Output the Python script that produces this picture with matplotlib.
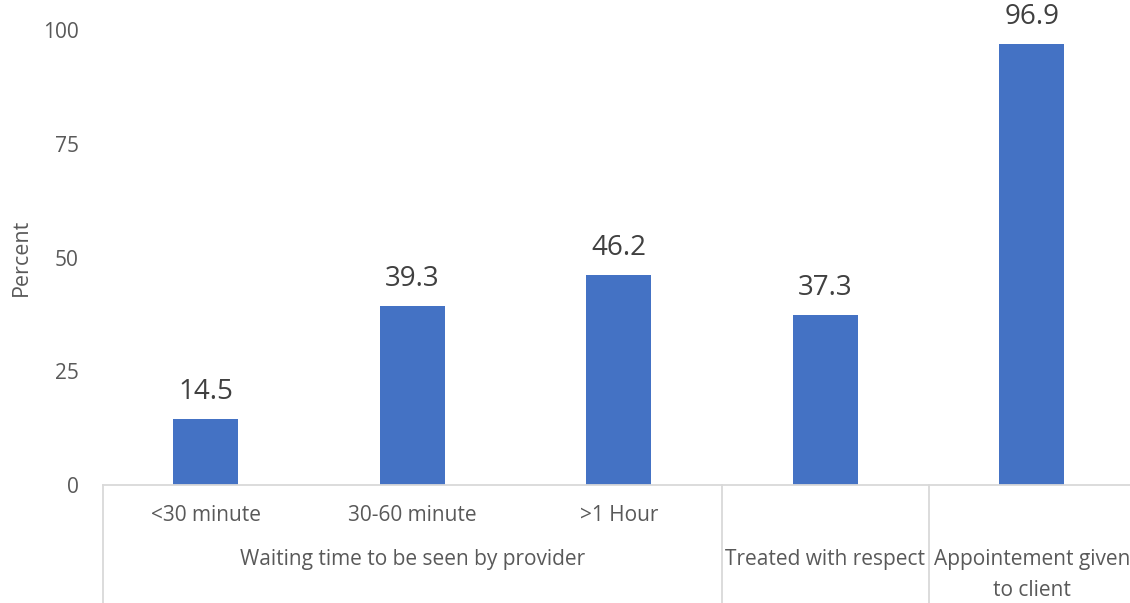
import matplotlib.pyplot as plt
from matplotlib.transforms import blended_transform_factory

plt.rcParams['font.family'] = ['Open Sans', 'DejaVu Sans']

# Percent of clients per indicator
sub_labels = ['<30 minute', '30-60 minute', '>1 Hour', '', '']
values = [14.5, 39.3, 46.2, 37.3, 96.9]
groups = ['Waiting time to be seen by provider', 'Treated with respect',
          'Appointement given\nto client']
group_spans = [(0, 2), (3, 3), (4, 4)]
yticks = [0, 25, 50, 75, 100]

bar_color = '#4472C4'
text_color = '#595959'
line_color = '#D9D9D9'
fs = 15

fig = plt.figure(figsize=(11.3, 6.03), dpi=100)
ax = fig.add_axes([102.5 / 1130, 118 / 603, 1032.5 / 1130, 455 / 603])

x = list(range(len(values)))
bars = ax.bar(x, values, width=0.315, color=bar_color, zorder=2)
for xi, v in zip(x, values):
    ax.annotate(f'{v:.1f}', (xi, v), xytext=(0, 9.5), textcoords='offset points',
                ha='center', va='bottom', fontsize=20, color='#404040')

ax.set_xlim(-0.5, len(values) - 0.5)
ax.set_ylim(0, 100)
ax.set_yticks(yticks)
ax.tick_params(axis='y', length=0, labelsize=fs, labelcolor=text_color, pad=17)
ax.set_xticks([])
for side in ['left', 'right', 'top']:
    ax.spines[side].set_visible(False)
ax.spines['bottom'].set_color(line_color)
ax.spines['bottom'].set_linewidth(1.3)
ax.set_ylabel('Percent', fontsize=15.5, color=text_color, labelpad=8)

# two-level category axis below the bars
trans = blended_transform_factory(ax.transData, ax.transAxes)
for xi, lab in zip(x, sub_labels):
    if lab:
        ax.text(xi, -0.068, lab, transform=trans, ha='center', va='center',
                fontsize=fs, color=text_color)
for name, (a, b) in zip(groups, group_spans):
    ax.text((a + b) / 2, -0.14, name, transform=trans, ha='center', va='top',
            fontsize=fs, color=text_color, linespacing=1.65)

ax.plot([-0.5, -0.5], [0, -0.3], transform=trans, color=line_color, lw=1.3, clip_on=False)
for name, (a, b) in zip(groups, group_spans):
    ax.plot([b + 0.5, b + 0.5], [0, -0.3], transform=trans, color=line_color,
            lw=1.3, clip_on=False)

fig.savefig('out.png', dpi=100)
